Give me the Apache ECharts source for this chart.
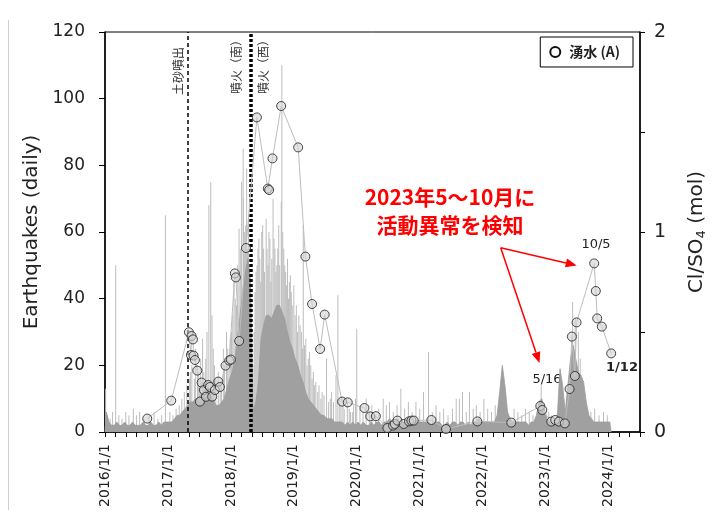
<!DOCTYPE html>
<html><head><meta charset="utf-8">
<script src="https://cdn.jsdelivr.net/npm/echarts@6.0.0/dist/echarts.min.js"></script>
<style>html,body{margin:0;padding:0;background:#fff}#c{width:719px;height:515px}</style>
</head><body><div id="c"></div><script>
// ---- Data ----
// Daily earthquakes: semi-monthly base level of the dense histogram, starting 2016/1/1 (24 bins per year)
const eqBase2016 = [6,3,2,2,3,2,2,3,2,2,3,2,2,2,3,2,2,3,2,2,3,2,3,3];
const eqBase2017 = [3,3,4,5,5,6,7,8,9,9,10,10,11,12,13,12,11,9,8,8,9,10,13,16];
const eqBase2018 = [18,22,28,35,42,48,52,45,6,9,15,28,32,35,35,34,36,38,38,36,34,30,27,25];
const eqBase2019 = [22,20,17,15,12,10,9,8,7,6,5,5,4,4,4,3,3,3,3,2,3,2,3,2];
const eqBase2020 = [3,2,3,2,2,3,2,3,3,2,3,3,4,3,3,4,3,3,3,4,3,3,3,3];
const eqBase2021 = [3,3,3,3,2,3,3,3,2,2,3,2,3,3,2,3,3,2,3,2,3,3,4,3];
const eqBase2022 = [3,3,3,3,3,5,12,20,14,6,4,3,3,3,3,3,3,2,3,3,5,9,10,7];
const eqBase2023 = [4,3,3,3,5,19,14,6,14,22,26,22,18,17,15,9,5,4,3,3,3,3,3,3];
const eqBase2024 = [3];
// Individual daily counts standing out of the base (decimal year, count)
const eqSpikeYears = [2016.01,2016.04,2016.08,2016.12,2016.17,2016.22,2016.27,2016.33,2016.38,2016.45,2016.5,2016.55,2016.62,2016.7,2016.78,2016.84,2016.9,2016.96,
 2017.03,2017.08,2017.13,2017.18,2017.22,2017.26,2017.3,2017.34,2017.36,2017.38,2017.42,2017.44,2017.47,2017.49,2017.52,2017.55,2017.57,2017.6,2017.62,2017.65,2017.68,2017.7,2017.72,2017.74,2017.76,2017.8,2017.83,2017.85,2017.88,2017.9,2017.93,2017.95,2017.97,2017.99,
 2018.01,2018.03,2018.05,2018.07,2018.09,2018.11,2018.13,2018.15,2018.17,2018.195,2018.2,2018.22,2018.235,2018.25,2018.265,2018.28,2018.29,2018.33,2018.35,2018.37,2018.385,2018.40,2018.415,2018.43,2018.445,2018.46,2018.475,2018.49,2018.505,2018.52,2018.535,2018.56,2018.575,2018.59,2018.605,2018.62,2018.635,2018.65,2018.67,2018.685,2018.70,2018.715,2018.73,2018.745,2018.76,2018.775,2018.80,2018.81,2018.825,2018.84,2018.855,2018.87,2018.885,2018.9,2018.915,2018.93,2018.945,2018.96,2018.975,
 2019.0,2019.02,2019.04,2019.06,2019.08,2019.1,2019.12,2019.14,2019.15,2019.17,2019.19,2019.21,2019.23,2019.25,2019.27,2019.29,2019.31,2019.33,2019.35,2019.38,2019.4,2019.43,2019.45,2019.48,2019.52,2019.55,2019.58,2019.6,2019.63,2019.67,2019.7,2019.73,2019.75,2019.78,2019.8,2019.85,2019.88,2019.9,2019.93,2019.95,2019.98,2020.0,
 2020.05,2020.1,2020.15,2020.2,2020.24,2020.3,2020.35,2020.42,2020.47,2020.52,2020.58,2020.64,2020.7,2020.76,2020.82,2020.88,2020.94,
 2021.0,2021.06,2021.14,2021.2,2021.26,2021.32,2021.38,2021.45,2021.52,2021.58,2021.63,2021.68,2021.74,2021.79,2021.85,2021.9,2021.96,
 2022.02,2022.08,2022.14,2022.2,2022.5,2022.56,2022.62,2022.68,2022.74,2022.8,2022.93,
 2023.05,2023.1,2023.43,2023.47,2023.52,2023.55,2023.65,2023.72,2023.78,2023.85,2023.92,2023.98];
const eqSpikeValues = [13,5,4,6,50,5,4,6,5,7,5,6,4,5,6,4,5,65,
 6,5,7,8,10,12,14,16,18,20,16,25,20,18,22,28,18,22,30,68,75,35,25,20,16,18,15,14,25,20,30,25,22,28,
 30,35,45,40,38,50,61,55,75,85,70,60,62,79,55,65,48,12,20,30,42,48,50,55,58,52,45,60,62,55,48,64,55,50,60,58,45,52,70,58,55,48,50,55,62,50,69,110,60,55,50,48,44,52,40,45,47,42,38,
 44,35,38,30,35,32,30,25,62,26,28,20,22,24,20,16,18,14,15,12,14,10,12,11,22,9,10,12,9,17,41,10,8,8,7,9,7,6,6,8,10,31,
 7,6,10,6,8,5,7,10,8,9,6,8,13,7,9,6,9,
 7,12,24,6,8,6,7,5,7,10,10,12,6,12,7,8,6,
 10,7,6,8,7,6,5,7,6,5,14,
 6,5,39,34,30,22,8,6,7,5,6,5];
// Spring water (湧水 A) Cl/SO4 molar ratio (decimal year, ratio)
const springYears = [2016.671,2017.052,2017.333,2017.365,2017.376,2017.397,2017.407,2017.429,2017.466,2017.508,2017.535,2017.571,2017.603,2017.64,2017.667,2017.703,2017.746,2017.8,2017.825,2017.915,2017.973,2018.0,2018.063,2018.079,2018.132,2018.24,
 2018.413,2018.587,2018.608,2018.661,2018.799,2019.069,2019.184,2019.29,2019.418,2019.49,2019.767,2019.857,2020.122,2020.214,2020.304,2020.487,2020.577,2020.603,2020.646,2020.746,2020.83,2020.868,2020.905,
 2021.186,2021.418,2021.916,2022.455,2022.916,2022.948,2023.09,2023.153,2023.211,2023.306,2023.381,2023.418,2023.465,2023.492,2023.772,2023.798,2023.82,2023.894,2024.042];
const springRatio = [0.067,0.157,0.499,0.385,0.48,0.463,0.382,0.36,0.307,0.152,0.247,0.21,0.176,0.235,0.225,0.177,0.21,0.252,0.225,0.332,0.357,0.362,0.793,0.773,0.455,0.92,
 1.573,1.217,1.21,1.368,1.63,1.423,0.877,0.64,0.415,0.587,0.152,0.148,0.12,0.078,0.079,0.02,0.032,0.04,0.057,0.04,0.053,0.057,0.057,
 0.06,0.015,0.053,0.047,0.13,0.11,0.052,0.06,0.052,0.043,0.215,0.477,0.28,0.548,0.843,0.705,0.568,0.527,0.393];
// Events (decimal year)
const eventSand = 2017.32;      // 土砂噴出
const eventEruption = 2018.31;  // 噴火（南）・噴火（西）
const xMin = 2016, xMax = 2024.5, tickStep = 1/6;

// ---- Build series data ----
const eqBase = [].concat(eqBase2016, eqBase2017, eqBase2018, eqBase2019, eqBase2020, eqBase2021, eqBase2022, eqBase2023, eqBase2024);
const massData = [[xMin, 0]].concat(eqBase.map((v, i) => [xMin + (i + 0.5) / 24, v]));
massData.push([xMin + eqBase.length / 24, 0]);
const spikeData = eqSpikeYears.map((y, i) => [y, eqSpikeValues[i]]);
const springData = springYears.map((y, i) => [y, springRatio[i]]);

const FONT = 'DejaVu Sans';
const JP = '"Noto Sans CJK JP"';
const chart = echarts.init(document.getElementById('c'), null, {renderer: 'canvas'});

function arrow(x1, y1, x2, y2) {
  const a = Math.atan2(y2 - y1, x2 - x1), L = 11, W = 4.5;
  const bx = x2 - L * Math.cos(a), by = y2 - L * Math.sin(a);
  const px = -Math.sin(a) * W, py = Math.cos(a) * W;
  return [
    {type: 'line', shape: {x1: x1, y1: y1, x2: bx, y2: by}, style: {stroke: '#ff0000', lineWidth: 1.5}},
    {type: 'polygon', shape: {points: [[x2, y2], [bx + px, by + py], [bx - px, by - py]]}, style: {fill: '#ff0000'}}
  ];
}
function vtext(txt, x, y) {
  return {type: 'text', x: x, y: y, rotation: Math.PI / 2,
    style: {text: txt, x: 0, y: 0, align: 'left', verticalAlign: 'middle', font: '12px ' + JP, fill: '#333'}};
}

const option = {
  animation: false,
  backgroundColor: '#fff',
  grid: {left: 105, right: 79, top: 32, bottom: 83, show: true, borderColor: '#000', borderWidth: 1, backgroundColor: 'transparent'},
  legend: {
    data: [{name: '湧水 (A)', icon: 'circle'}],
    right: 86, top: 37, borderColor: '#000', borderWidth: 1, padding: [8, 13, 8, 9],
    itemWidth: 18, itemHeight: 10, selectedMode: false,
    itemStyle: {color: '#fff', borderColor: '#111', borderWidth: 2},
    textStyle: {fontSize: 14, fontWeight: 'bold', color: '#222', fontFamily: JP}
  },
  xAxis: {
    type: 'value', min: xMin, max: xMax, interval: tickStep,
    axisLine: {show: true, onZero: false, lineStyle: {color: '#000', width: 1.5}},
    axisTick: {show: true, length: 5, lineStyle: {color: '#000', width: 1}},
    splitLine: {show: false},
    axisLabel: {
      rotate: 90, margin: 12, fontSize: 14, color: '#222', fontFamily: FONT,
      formatter: v => (Math.abs(v - Math.round(v)) < 1e-6 && Math.round(v) < 2024.6) ? Math.round(v) + '/1/1' : ''
    }
  },
  yAxis: [
    {
      type: 'value', min: 0, max: 120, interval: 20, position: 'left',
      name: 'Earthquakes (daily)', nameLocation: 'middle', nameGap: 59, nameRotate: 90,
      nameTextStyle: {fontSize: 20, color: '#222', fontFamily: FONT},
      axisLine: {show: true, lineStyle: {color: '#000', width: 1.5}},
      axisTick: {show: true, length: 6, lineStyle: {color: '#000'}},
      splitLine: {show: false},
      axisLabel: {fontSize: 17, color: '#222', fontFamily: FONT, margin: 20}
    },
    {
      type: 'value', min: 0, max: 2, interval: 0.5, position: 'right',
      name: '{a|Cl/SO}{s|4}{a| (mol)}', nameLocation: 'middle', nameGap: 45, nameRotate: 90,
      nameTextStyle: {fontSize: 20, color: '#222', fontFamily: FONT,
        rich: {a: {fontSize: 20, fontFamily: FONT, color: '#222'}, s: {fontSize: 13, fontFamily: FONT, color: '#222', padding: [10, 0, 0, 0]}}},
      axisLine: {show: true, lineStyle: {color: '#000', width: 1.5}},
      axisTick: {show: true, length: 5, lineStyle: {color: '#000'}},
      splitLine: {show: false},
      axisLabel: {fontSize: 19, color: '#222', fontFamily: FONT, margin: 14,
        formatter: v => Math.abs(v - Math.round(v)) < 1e-6 ? String(Math.round(v)) : ''}
    }
  ],
  series: [
    {
      name: 'eqSpikes', type: 'bar', data: spikeData, barWidth: 1, xAxisIndex: 0, yAxisIndex: 0,
      itemStyle: {color: '#bdbdbd'}, silent: true, z: 1
    },
    {
      name: 'eqMass', type: 'line', data: massData, symbol: 'none', xAxisIndex: 0, yAxisIndex: 0,
      lineStyle: {color: '#9c9c9c', width: 0.8}, areaStyle: {color: '#a0a0a0', opacity: 1}, silent: true, z: 2,
      markLine: {
        symbol: 'none', silent: true, label: {show: false},
        data: [
          {xAxis: eventSand, lineStyle: {type: [4, 3], width: 1.5, color: '#000'}},
          {xAxis: eventEruption, lineStyle: {type: [3, 2], width: 3.5, color: '#000'}}
        ]
      }
    },
    {
      name: '湧水 (A)', type: 'line', data: springData, yAxisIndex: 1, xAxisIndex: 0,
      symbol: 'circle', symbolSize: 9,
      itemStyle: {color: 'rgba(210,210,210,0.6)', borderColor: 'rgba(40,40,40,0.85)', borderWidth: 1},
      lineStyle: {color: '#bdbdbd', width: 1}, z: 5
    }
  ],
  graphic: [
    {type: 'line', shape: {x1: 8.5, y1: 20, x2: 8.5, y2: 510}, style: {stroke: '#cfcfcf', lineWidth: 1}},
    vtext('土砂噴出', 178.5, 95),
    vtext('噴火（南）', 236.5, 94),
    vtext('噴火（西）', 263.5, 94),
    {type: 'text', x: 450, y: 197, style: {text: '2023年5～10月に', align: 'center', verticalAlign: 'middle', font: 'bold 21px ' + JP, fill: '#ff0000'}},
    {type: 'text', x: 450, y: 225, style: {text: '活動異常を検知', align: 'center', verticalAlign: 'middle', font: 'bold 21px ' + JP, fill: '#ff0000'}},
    ...arrow(500.7, 247.7, 576.7, 265.5),
    ...arrow(500.7, 247.7, 539.5, 363),
    {type: 'text', x: 596, y: 245, style: {text: '10/5', align: 'center', verticalAlign: 'middle', font: '13px "DejaVu Sans"', fill: '#222'}},
    {type: 'text', x: 547, y: 380, style: {text: '5/16', align: 'center', verticalAlign: 'middle', font: '13px "DejaVu Sans"', fill: '#222'}},
    {type: 'text', x: 622, y: 368, style: {text: '1/12', align: 'center', verticalAlign: 'middle', font: 'bold 13px "DejaVu Sans"', fill: '#222'}}
  ]
};
chart.setOption(option);
</script></body></html>
